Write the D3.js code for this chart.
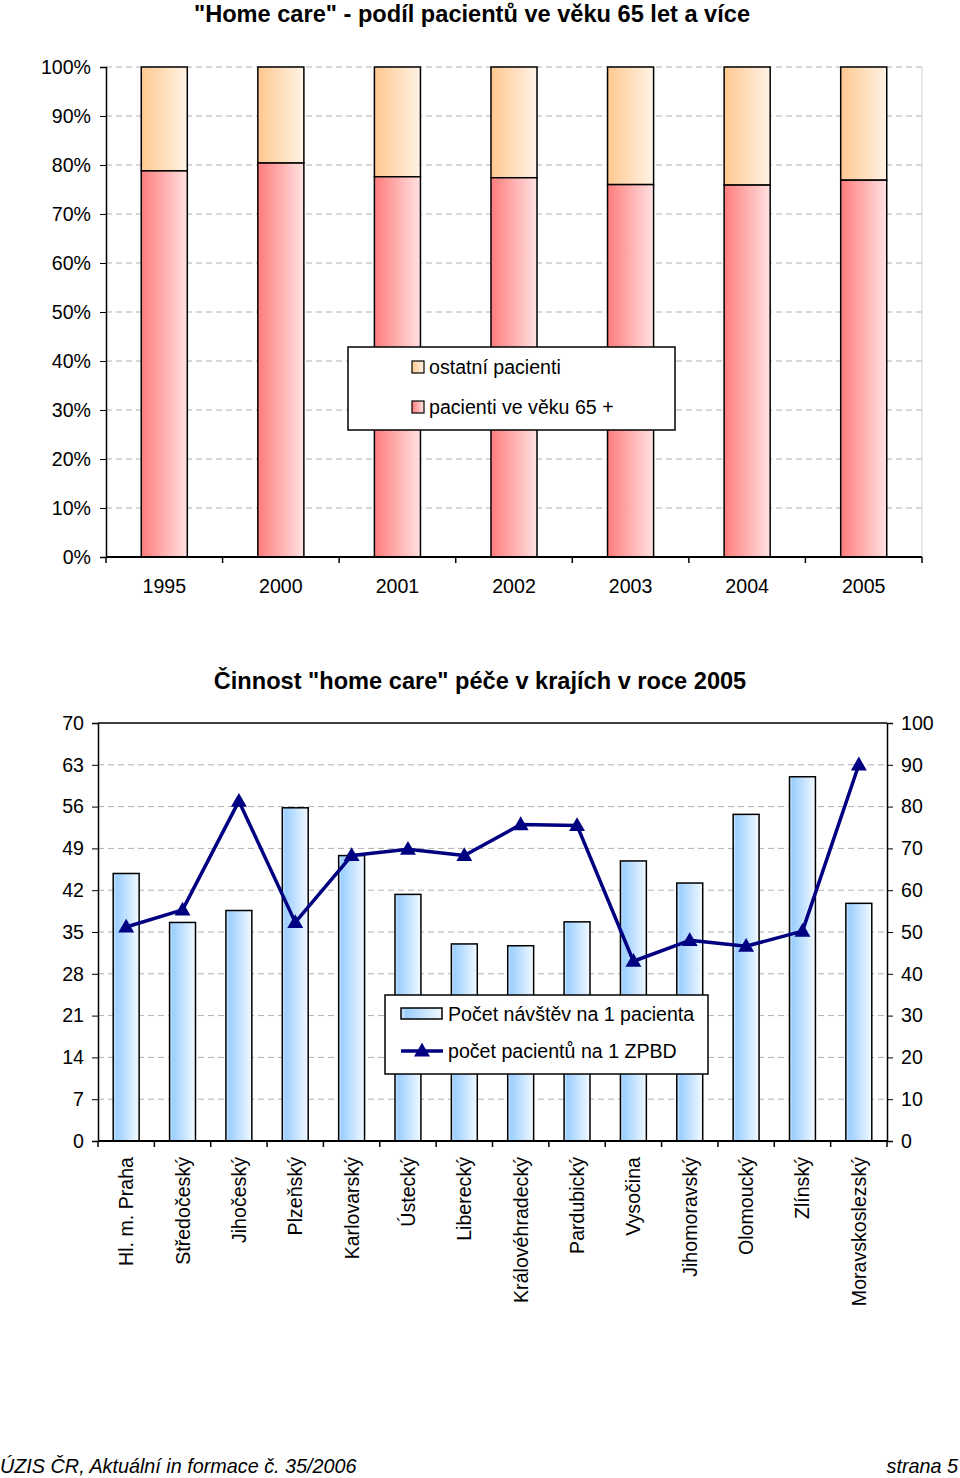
<!DOCTYPE html>
<html><head><meta charset="utf-8">
<script src="https://cdn.jsdelivr.net/npm/d3@7"></script>
<style>body{margin:0;background:#fff}svg{display:block}text{font-family:"Liberation Sans",Arial,sans-serif}</style>
</head><body>
<script>
// Top chart data
const years = ["1995","2000","2001","2002","2003","2004","2005"];
const share65 = [78.8, 80.4, 77.6, 77.4, 76.0, 75.9, 76.9];
const pctTicks = [0,10,20,30,40,50,60,70,80,90,100];

// Bottom chart data
const regions = ["Hl. m. Praha","Středočeský","Jihočeský","Plzeňský","Karlovarský","Ústecký","Liberecký","Královéhradecký","Pardubický","Vysočina","Jihomoravský","Olomoucký","Zlínský","Moravskoslezský"];
const visits = [44.8, 36.6, 38.6, 55.8, 47.8, 41.3, 33.0, 32.7, 36.7, 46.9, 43.2, 54.7, 61.0, 39.8];
const patientsPerZPBD = [51.2, 55.3, 81.3, 52.3, 68.3, 69.8, 68.3, 75.7, 75.5, 43.0, 48.0, 46.6, 50.2, 90.0];
const leftTicks = [0,7,14,21,28,35,42,49,56,63,70];
const rightTicks = [0,10,20,30,40,50,60,70,80,90,100];

const W = 960, H = 1478;
const FS = 19.6;
const svg = d3.select("body").append("svg").attr("width", W).attr("height", H);
const defs = svg.append("defs");
function grad(id, stops){
  const g = defs.append("linearGradient").attr("id", id).attr("x1","0%").attr("x2","100%").attr("y1","0%").attr("y2","0%");
  stops.forEach(s=>g.append("stop").attr("offset",s[0]).attr("stop-color", s[1]));
}
grad("gPink", [["0%","#ff7c7c"],["100%","#ffe2e2"]]);
grad("gOrange", [["0%","#ffc890"],["100%","#fff3e6"]]);
grad("gBlue", [["0%","#d6eaff"],["12%","#9ccfff"],["100%","#f2f9ff"]]);

// ---------- Top chart ----------
svg.append("text").attr("x", 472).attr("y", 22).attr("text-anchor","middle")
  .attr("font-size", 23.6).attr("font-weight","bold").text('"Home care" - podíl pacientů ve věku 65 let a více');

const t = {l:106, r:922, top:67, bot:557};
const x1 = d3.scaleBand().domain(years).range([t.l, t.r]).paddingInner(0.605).paddingOuter(0.3025);
const y1 = d3.scaleLinear().domain([0,100]).range([t.bot, t.top]);
const g1 = svg.append("g");
g1.selectAll("line.grid").data(pctTicks.filter(d=>d>0)).join("line")
  .attr("x1", t.l).attr("x2", t.r).attr("y1", d=>y1(d)).attr("y2", d=>y1(d))
  .attr("stroke","#b0b0b0").attr("stroke-dasharray","6,4").attr("stroke-width",1);
g1.append("line").attr("x1", t.r).attr("x2", t.r).attr("y1", t.top).attr("y2", t.bot).attr("stroke","#d0d0d0");
// bars
g1.selectAll("rect.oth").data(years).join("rect")
  .attr("x", d=>x1(d)).attr("width", x1.bandwidth())
  .attr("y", y1(100)).attr("height", (d,i)=>y1(share65[i]) - y1(100))
  .attr("fill","url(#gOrange)").attr("stroke","#000").attr("stroke-width",1.5);
g1.selectAll("rect.p65").data(years).join("rect")
  .attr("x", d=>x1(d)).attr("width", x1.bandwidth())
  .attr("y", (d,i)=>y1(share65[i])).attr("height", (d,i)=>y1(0)-y1(share65[i]))
  .attr("fill","url(#gPink)").attr("stroke","#000").attr("stroke-width",1.5);
// axes
const ya1 = d3.axisLeft(y1).tickValues(pctTicks).tickFormat(d=>d+"%").tickSize(6).tickPadding(9);
const yg1 = g1.append("g").attr("transform",`translate(${t.l},0)`).call(ya1);
yg1.select(".domain").attr("stroke","#000").attr("stroke-width",1.5);
yg1.selectAll("text").attr("font-size",FS).attr("font-family","Liberation Sans, Arial");
g1.append("line").attr("x1",t.l).attr("x2",t.r).attr("y1",t.bot).attr("y2",t.bot).attr("stroke","#000").attr("stroke-width",2);
const bounds1 = d3.range(years.length+1).map(i=>t.l + i*(t.r-t.l)/years.length);
g1.selectAll("line.xt").data(bounds1).join("line").attr("x1",d=>d).attr("x2",d=>d).attr("y1",t.bot).attr("y2",t.bot+6).attr("stroke","#000").attr("stroke-width",1.5);
g1.selectAll("text.yr").data(years).join("text").attr("x", d=>x1(d)+x1.bandwidth()/2).attr("y", 593)
  .attr("text-anchor","middle").attr("font-size",FS).text(d=>d);
// legend
const lg1 = g1.append("g");
lg1.append("rect").attr("x",348).attr("y",347).attr("width",327).attr("height",83).attr("fill","#fff").attr("stroke","#000").attr("stroke-width",1.5);
const leg1 = [{t:"ostatní pacienti", f:"url(#gOrange)", y:367},{t:"pacienti ve věku 65 +", f:"url(#gPink)", y:407}];
leg1.forEach(e=>{
  lg1.append("rect").attr("x",412).attr("y",e.y-6).attr("width",12).attr("height",12).attr("fill",e.f).attr("stroke","#000").attr("stroke-width",1.2);
  lg1.append("text").attr("x",429).attr("y",e.y+7).attr("font-size",FS).text(e.t);
});

// ---------- Bottom chart ----------
svg.append("text").attr("x", 480).attr("y", 689).attr("text-anchor","middle")
  .attr("font-size", 23.6).attr("font-weight","bold").text('Činnost "home care" péče v krajích v roce 2005');

const b = {l:98, r:887, top:723, bot:1141};
const x2 = d3.scaleBand().domain(regions).range([b.l, b.r]).paddingInner(0.54).paddingOuter(0.27);
const yL = d3.scaleLinear().domain([0,70]).range([b.bot, b.top]);
const yR = d3.scaleLinear().domain([0,100]).range([b.bot, b.top]);
const g2 = svg.append("g");
g2.selectAll("line.grid").data(leftTicks.filter(d=>d>0 && d<70)).join("line")
  .attr("x1", b.l).attr("x2", b.r).attr("y1", d=>yL(d)).attr("y2", d=>yL(d))
  .attr("stroke","#b0b0b0").attr("stroke-dasharray","6,4");
g2.append("line").attr("x1",b.l).attr("x2",b.r).attr("y1",b.top).attr("y2",b.top).attr("stroke","#000").attr("stroke-width",1.5);
g2.selectAll("rect.v").data(regions).join("rect")
  .attr("x", d=>x2(d)).attr("width", x2.bandwidth())
  .attr("y", (d,i)=>yL(visits[i])).attr("height", (d,i)=>yL(0)-yL(visits[i]))
  .attr("fill","url(#gBlue)").attr("stroke","#000").attr("stroke-width",1.5);
const yaL = d3.axisLeft(yL).tickValues(leftTicks).tickSize(6).tickPadding(8);
const ygL = g2.append("g").attr("transform",`translate(${b.l},0)`).call(yaL);
ygL.select(".domain").attr("stroke-width",1.5);
ygL.selectAll("text").attr("font-size",FS).attr("font-family","Liberation Sans, Arial");
const yaR = d3.axisRight(yR).tickValues(rightTicks).tickSize(6).tickPadding(8);
const ygR = g2.append("g").attr("transform",`translate(${b.r},0)`).call(yaR);
ygR.select(".domain").attr("stroke-width",1.5);
ygR.selectAll("text").attr("font-size",FS).attr("font-family","Liberation Sans, Arial");
g2.append("line").attr("x1",b.l).attr("x2",b.r).attr("y1",b.bot).attr("y2",b.bot).attr("stroke","#000").attr("stroke-width",2);
const bounds2 = d3.range(regions.length+1).map(i=>b.l + i*(b.r-b.l)/regions.length);
g2.selectAll("line.xt").data(bounds2).join("line").attr("x1",d=>d).attr("x2",d=>d).attr("y1",b.bot).attr("y2",b.bot+6).attr("stroke","#000").attr("stroke-width",1.5);
g2.selectAll("text.reg").data(regions).join("text")
  .attr("transform", d=>`translate(${x2(d)+x2.bandwidth()/2+7},1157) rotate(-90)`)
  .attr("text-anchor","end").attr("font-size",FS).text(d=>d);
// line
const line = d3.line().x((d,i)=>x2(regions[i])+x2.bandwidth()/2).y(d=>yR(d));
g2.append("path").attr("d", line(patientsPerZPBD)).attr("fill","none").attr("stroke","#000080").attr("stroke-width",3.5).attr("stroke-linejoin","round");
const tri = d3.symbol().type(d3.symbolTriangle).size(110);
g2.selectAll("path.m").data(patientsPerZPBD).join("path")
  .attr("transform",(d,i)=>`translate(${x2(regions[i])+x2.bandwidth()/2},${yR(d)+1})`)
  .attr("d", tri).attr("fill","#000080");
// legend
const lg2 = g2.append("g");
lg2.append("rect").attr("x",385).attr("y",995).attr("width",323).attr("height",79).attr("fill","#fff").attr("stroke","#000").attr("stroke-width",1.5);
lg2.append("rect").attr("x",401).attr("y",1008).attr("width",41).attr("height",11).attr("fill","url(#gBlue)").attr("stroke","#000").attr("stroke-width",1.5);
lg2.append("text").attr("x",448).attr("y",1021).attr("font-size",FS).text("Počet návštěv na 1 pacienta");
lg2.append("line").attr("x1",401).attr("x2",443).attr("y1",1051).attr("y2",1051).attr("stroke","#000080").attr("stroke-width",3.5);
lg2.append("path").attr("transform","translate(422,1052)").attr("d",tri).attr("fill","#000080");
lg2.append("text").attr("x",448).attr("y",1058).attr("font-size",FS).text("počet pacientů na 1 ZPBD");

// footer
svg.append("text").attr("x",0).attr("y",1473).attr("font-size",19.8).attr("font-style","italic").text("ÚZIS ČR, Aktuální in formace č. 35/2006");
svg.append("text").attr("x",958).attr("y",1473).attr("text-anchor","end").attr("font-size",19.8).attr("font-style","italic").text("strana 5");
</script>
</body></html>
